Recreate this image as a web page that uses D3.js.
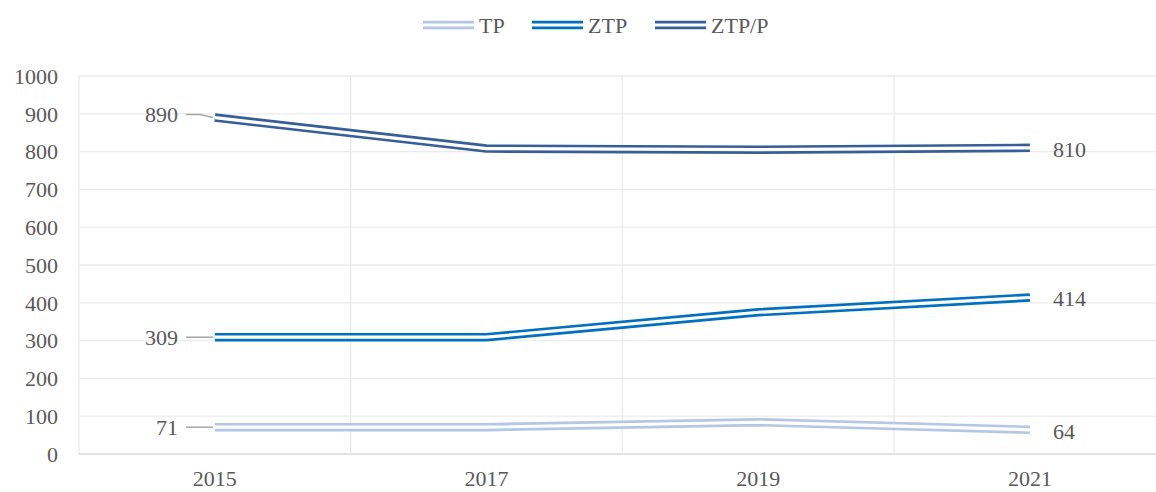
<!DOCTYPE html>
<html>
<head>
<meta charset="utf-8">
<script src="https://cdn.jsdelivr.net/npm/d3@7"></script>
<style>
  html, body { margin: 0; padding: 0; background: #fff; }
  svg { display: block; }
  text { font-family: "Liberation Serif", "Times New Roman", serif; fill: #595959; }
</style>
</head>
<body>
<svg id="chart" width="1156" height="492"></svg>
<script>
const years = ["2015", "2017", "2019", "2021"];
const seriesNames = ["TP", "ZTP", "ZTP/P"];
const tpValues = [71, 71, 84, 64];
const ztpValues = [309, 309, 375, 414];
const ztppValues = [890, 808, 805, 810];
const yTicks = [0, 100, 200, 300, 400, 500, 600, 700, 800, 900, 1000];
const colors = ["#B4C7E7", "#0070C0", "#365F98"];

const series = [
  { name: seriesNames[0], values: tpValues, color: colors[0] },
  { name: seriesNames[1], values: ztpValues, color: colors[1] },
  { name: seriesNames[2], values: ztppValues, color: colors[2] }
];

const FS = 22;
const svg = d3.select("#chart");
const plotLeft = 79, plotTop = 76, plotBottom = 454, bandW = 271.7;
const x = d3.scaleBand().domain(years).range([plotLeft, plotLeft + bandW * years.length]);
const cx = d => x(d) + x.bandwidth() / 2;
const y = d3.scaleLinear().domain([0, 1000]).range([plotBottom, plotTop]);

// horizontal gridlines
svg.append("g").selectAll("line").data(yTicks).join("line")
  .attr("x1", plotLeft).attr("x2", 1156)
  .attr("y1", d => y(d)).attr("y2", d => y(d))
  .attr("stroke", d => d === 0 ? "#d9d9d9" : "#ebebeb").attr("stroke-width", 1.3);

// vertical gridlines (category boundaries)
svg.append("g").selectAll("line").data(years).join("line")
  .attr("x1", d => x(d)).attr("x2", d => x(d))
  .attr("y1", plotTop).attr("y2", plotBottom)
  .attr("stroke", "#ebebeb").attr("stroke-width", 1.3);

// y axis labels
svg.append("g").selectAll("text").data(yTicks).join("text")
  .attr("x", 58).attr("y", d => y(d)).attr("dy", "0.35em")
  .attr("text-anchor", "end").attr("font-size", FS)
  .text(d => d);

// x axis labels
svg.append("g").selectAll("text").data(years).join("text")
  .attr("x", d => cx(d)).attr("y", 478).attr("dy", "0.35em")
  .attr("text-anchor", "middle").attr("font-size", FS)
  .text(d => d);

// double lines
const line = d3.line().x((v, i) => cx(years[i])).y(v => y(v));
series.forEach(s => {
  svg.append("path").attr("d", line(s.values)).attr("fill", "none")
    .attr("stroke", s.color).attr("stroke-width", 8.5).attr("stroke-linejoin", "round");
  svg.append("path").attr("d", line(s.values)).attr("fill", "none")
    .attr("stroke", "#fff").attr("stroke-width", 3.2).attr("stroke-linejoin", "round");
});

// data labels
series.forEach(s => {
  const v0 = s.values[0], vN = s.values[s.values.length - 1];
  const x0 = cx(years[0]);
  const ly = y(v0) - (s.name === "ZTP/P" ? 3 : 0);
  svg.append("text").attr("x", 178).attr("y", ly).attr("dy", "0.35em")
    .attr("text-anchor", "end").attr("font-size", FS).text(v0);
  svg.append("path")
    .attr("d", `M186,${ly}L200,${ly}L${x0 - 2},${y(v0)}`)
    .attr("fill", "none").attr("stroke", "#a6a6a6").attr("stroke-width", 1.5);
  svg.append("text").attr("x", cx(years[years.length - 1]) + 23).attr("y", y(vN) + 1).attr("dy", "0.35em")
    .attr("text-anchor", "start").attr("font-size", FS).text(vN);
});

// legend
const legendItems = [
  { x: 423, s: series[0] },
  { x: 532, s: series[1] },
  { x: 655, s: series[2] }
];
const lg = svg.append("g");
legendItems.forEach(it => {
  lg.append("line").attr("x1", it.x).attr("x2", it.x + 51).attr("y1", 25).attr("y2", 25)
    .attr("stroke", it.s.color).attr("stroke-width", 8.5);
  lg.append("line").attr("x1", it.x).attr("x2", it.x + 51).attr("y1", 25).attr("y2", 25)
    .attr("stroke", "#fff").attr("stroke-width", 3.2);
  lg.append("text").attr("x", it.x + 56).attr("y", 25).attr("dy", "0.35em")
    .attr("font-size", FS).text(it.s.name);
});
</script>
</body>
</html>
